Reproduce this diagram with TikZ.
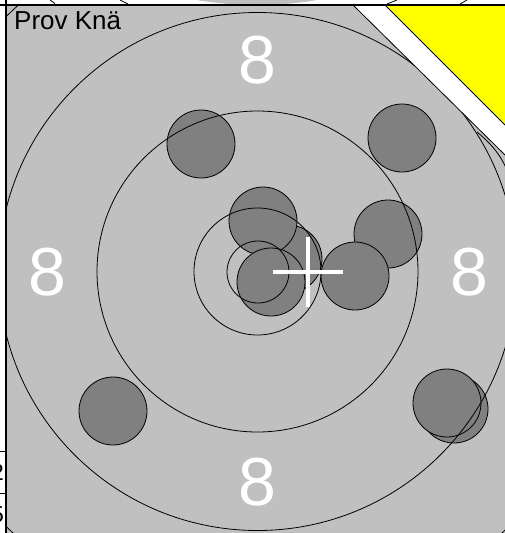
\documentclass[tikz,border=0pt]{standalone}
\usepackage{fontspec}
\setmainfont{Liberation Sans}
\definecolor{panelgray}{HTML}{C0C0C0}
\definecolor{shotgray}{HTML}{808080}
\definecolor{markyellow}{HTML}{FFFF00}
\begin{document}
\begin{tikzpicture}[x=1pt,y=-1pt,
  ring/.style={draw=black,line width=0.8pt},
  shot/.style={fill=shotgray,draw=black,line width=0.8pt},
  ringlabel/.style={text=white,inner sep=0pt,font=\fontsize{68}{68}\selectfont},
  tablenum/.style={text=black,inner sep=0pt,anchor=base east,font=\fontsize{23}{23}\selectfont},
  border/.style={draw=black,line width=1.5pt}]
\useasboundingbox (0,0) rectangle (505,533);
\fill[white] (0,0) rectangle (505,533);
% upper strip: bottom of the previous target
\begin{scope}
  \clip (0,0) rectangle (505,5);
  \fill[panelgray] (257,-355) circle[radius=360];
  \draw[ring] (50,0) -- (55,3.5);
  \draw[ring] (120,0) -- (128,4);
  \draw[ring] (387,4) -- (397,0);
  \draw[ring] (460,4) -- (467,0);
\end{scope}
% left strip: table column
\begin{scope}
  \clip (0,0) rectangle (6,533);
  \draw[black,line width=0.8pt] (0,451) -- (6,451);
  \draw[black,line width=0.8pt] (0,493) -- (6,493);
  \node[tablenum] (n2) at (4,480) {2};
  \node[tablenum] (n5) at (4,522) {5};
\end{scope}
% panel
\fill[panelgray] (6,5) rectangle (505,533);
\begin{scope}
  \clip (6,5) rectangle (505,533);
  \foreach \p in {(201,144),(402,138),(288,259),(263,221),(271,282),(388,234),(355,276),(113,411),(454,409),(447,403)}
    \draw[shot] \p circle[radius=34];
  \coordinate (c) at (257.5,271.5);
  \draw[ring] (258,272) circle[radius=31];
  \draw[ring] (c) circle[radius=63.5];
  \draw[ring] (c) circle[radius=160.5];
  \draw[ring] (c) circle[radius=259];
  \draw[ring] (c) circle[radius=358];
  \coordinate (a1) at (477,132);
  \coordinate (a2) at (506,168);
  \draw[ring] (a1) .. controls (488,141) and (499,152) .. (a2);
  % corner marker
  \fill[white] (353,5) -- (505,5) -- (505,155) -- cycle;
  \draw[black,line width=0.8pt] (353,5) -- (505,155);
  \fill[markyellow] (385,5) -- (505,5) -- (505,125) -- cycle;
  \draw[black,line width=0.8pt] (385,5) -- (505,125);
\end{scope}
\draw[border] (0,5) -- (505,5);
\draw[border] (6,0) -- (6,533);
% labels
\node[ringlabel] (t8) at (257.5,60) {8};
\node[ringlabel] (b8) at (257.5,482) {8};
\node[ringlabel] (l8) at (47,272) {8};
\node[ringlabel] (r8) at (469,272) {8};
\node[anchor=base west,inner sep=0pt,font=\fontsize{26}{26}\selectfont] (title) at (14,29) {Prov Knä};
% mean point of impact
\coordinate (mpi) at (307.5,272);
\draw[white,line width=4pt] ([xshift=-35pt]mpi) -- ([xshift=35pt]mpi);
\draw[white,line width=4pt] ([yshift=-35pt]mpi) -- ([yshift=35pt]mpi);
\end{tikzpicture}
\end{document}
